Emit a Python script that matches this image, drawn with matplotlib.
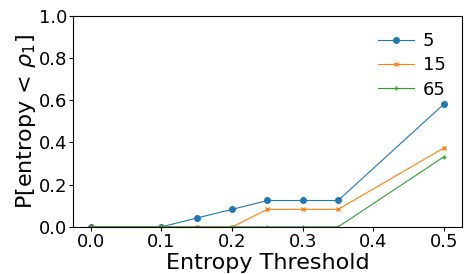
import matplotlib
matplotlib.use("Agg")
import matplotlib.pyplot as plt

thresholds = [0.0, 0.1, 0.15, 0.2, 0.25, 0.3, 0.35, 0.5]
p_5 = [0.0, 0.0, 0.042, 0.083, 0.125, 0.125, 0.125, 0.583]
p_15 = [0.0, 0.0, 0.0, 0.0, 0.083, 0.083, 0.083, 0.375]
p_65 = [0.0, 0.0, 0.0, 0.0, 0.0, 0.0, 0.0, 0.333]
labels = ["5", "15", "65"]
xticks = [0.0, 0.1, 0.2, 0.3, 0.4, 0.5]
yticks = [0.0, 0.2, 0.4, 0.6, 0.8, 1.0]

fig, ax = plt.subplots(figsize=(4.66, 2.74), dpi=100)
ax.plot(thresholds, p_5, marker='o', markersize=4, linewidth=0.8, label=labels[0])
ax.plot(thresholds, p_15, marker='x', markersize=3.5, linewidth=0.8, label=labels[1])
ax.plot(thresholds, p_65, marker='+', markersize=3.5, linewidth=0.8, label=labels[2])
ax.set_ylim(0, 1.0)
ax.set_xticks(xticks)
ax.set_yticks(yticks)
ax.tick_params(labelsize=13, length=3, pad=1.5)
ax.set_xlabel("Entropy Threshold", fontsize=16, labelpad=1)
ax.set_ylabel(r"P[entropy < $\rho_1$]", fontsize=16, labelpad=0)
ax.legend(frameon=False, loc="upper right", fontsize=13,
          handletextpad=0.5, labelspacing=0.35)
fig.subplots_adjust(left=0.157, right=0.991, top=0.942, bottom=0.172)
fig.savefig("out.png")
